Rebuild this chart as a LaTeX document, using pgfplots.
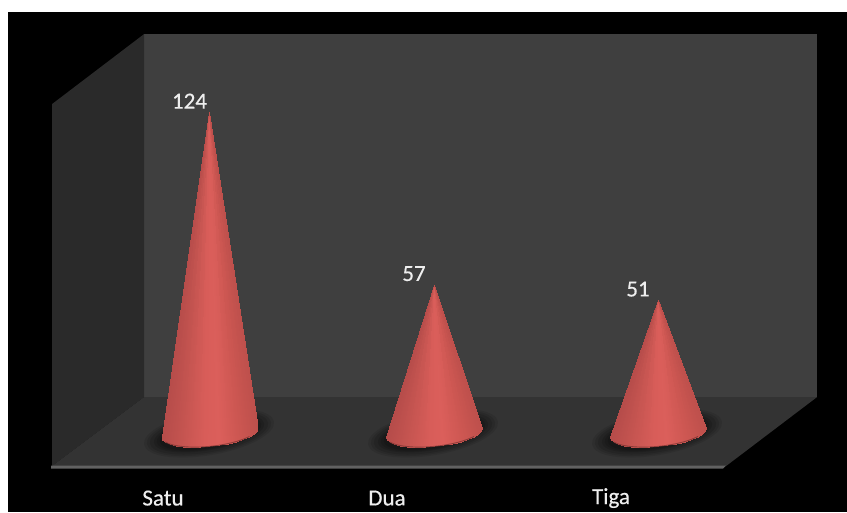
\documentclass[border=0pt]{standalone}
\usepackage{pgfplots}
\usepackage{pgfplotstable}
\usepackage{fontspec}
\usepgfplotslibrary{patchplots}
\pgfplotsset{compat=1.18}
\setmainfont{Carlito}

\definecolor{backwall}{RGB}{63,63,63}
\definecolor{sidewall}{RGB}{42,42,42}
\definecolor{floorc}{RGB}{51,51,51}
\definecolor{lipc}{RGB}{98,98,98}
\definecolor{labelc}{RGB}{238,238,238}
\definecolor{rimc}{RGB}{120,50,48}

% unit cone: a fan of triangles from the apex (a=1) to the front rim of the base
\pgfplotstableread{
a dx dy m
1 0 0 -47.55
0 -48 4.5 -48
0 -47.1 7.1 -47.1
1 0 0 -45.7
0 -47.1 7.1 -47.1
0 -44.3 9.45 -44.3
1 0 0 -42.1
0 -44.3 9.45 -44.3
0 -39.9 11.41 -39.9
1 0 0 -36.9
0 -39.9 11.41 -39.9
0 -33.9 12.94 -33.9
1 0 0 -30.3
0 -33.9 12.94 -33.9
0 -26.7 13.97 -26.7
1 0 0 -22.55
0 -26.7 13.97 -26.7
0 -18.4 14.47 -18.4
1 0 0 -13.9
0 -18.4 14.47 -18.4
0 -9.4 14.42 -9.4
1 0 0 -4.7
0 -9.4 14.42 -9.4
0 0 13.8 0
1 0 0 4.7
0 0 13.8 0
0 9.4 12.66 9.4
1 0 0 13.9
0 9.4 12.66 9.4
0 18.4 11.03 18.4
1 0 0 22.55
0 18.4 11.03 18.4
0 26.7 8.97 26.7
1 0 0 30.3
0 26.7 8.97 26.7
0 33.9 6.58 33.9
1 0 0 36.9
0 33.9 6.58 33.9
0 39.9 3.93 39.9
1 0 0 42.1
0 39.9 3.93 39.9
0 44.3 1.13 44.3
1 0 0 45.7
0 44.3 1.13 44.3
0 47.1 -1.72 47.1
1 0 0 47.55
0 47.1 -1.72 47.1
0 48 -4.5 48
}\conefan

% front rim of the base, stroked as a thin dark edge
\pgfplotstableread{
dx dy
-44.3 9.45
-39.9 11.41
-33.9 12.94
-26.7 13.97
-18.4 14.47
-9.4 14.42
0 13.8
9.4 12.66
18.4 11.03
26.7 8.97
33.9 6.58
39.9 3.93
}\conerim

% one flat panel of the box, corners given in picture units with y pointing down
\newcommand{\panel}[2]{%
  \addplot[fill=#1,draw=none,forget plot]
    table[row sep=\\,x=px,y expr={(431.3-\thisrow{py})/2.575}] {px py\\ #2} -- cycle;}

% one cone: centre x on the floor and its value
\newcommand{\cone}[2]{%
  \addplot[patch,patch type=triangle,shader=interp,forget plot]
    table[x expr={\thisrow{dx}+#1},
          y expr={\thisrow{a}*#2-(\thisrow{dy}+1.2*(1-\thisrow{a}))/2.575},
          point meta=\thisrow{m}] {\conefan};
  \addplot[rimc,line width=0.9pt,smooth,forget plot,opacity=0.75]
    table[x expr={\thisrow{dx}+#1},y expr={-(\thisrow{dy}+1.2)/2.575}] {\conerim};}

% soft shadow on the floor, built from stacked translucent ellipses
\newcommand{\coneshadow}[1]{%
  \fill[black,opacity=0.09] (axis cs:#1,-0.66) ellipse [x radius=66pt,y radius=22pt,rotate=10];
  \fill[black,opacity=0.10] (axis cs:#1,-0.66) ellipse [x radius=63pt,y radius=20.5pt,rotate=10];
  \fill[black,opacity=0.12] (axis cs:#1,-0.66) ellipse [x radius=60pt,y radius=19pt,rotate=10];
  \fill[black,opacity=0.12] (axis cs:#1,-0.66) ellipse [x radius=56pt,y radius=17pt,rotate=10];
  \fill[black,opacity=0.12] (axis cs:#1,-0.66) ellipse [x radius=53pt,y radius=16pt,rotate=10];
  \fill[black,opacity=0.12] (axis cs:#1,-0.66) ellipse [x radius=50pt,y radius=15pt,rotate=10];}

\begin{document}
\begin{tikzpicture}
\begin{axis}[
  width=847pt,height=512pt,scale only axis,
  xmin=0,xmax=847,ymin=-31.34,ymax=167.5,
  axis on top,
  axis line style={draw=none},
  axis background/.style={fill=white},
  major tick length=0pt,
  ytick=\empty,
  xtick={163,387,611},
  xticklabels={Satu,Dua,Tiga},
  x tick label style={anchor=center,yshift=14pt,
    font=\fontsize{23}{25}\selectfont\addfontfeature{FakeBold=0.4},text=labelc},
  colormap={conered}{
    rgb255(0cm)=(182,76,74);
    rgb255(2cm)=(196,84,80);
    rgb255(4.5cm)=(216,93,89);
    rgb255(6cm)=(219,95,91);
    rgb255(8cm)=(205,87,82);
    rgb255(10cm)=(190,80,76)},
  point meta min=-48,point meta max=48,
  /pgf/number format/assume math mode=true,
  clip=true,
]
\panel{black}{8 12\\ 847 12\\ 847 512\\ 8 512\\}
\panel{backwall}{144 34\\ 817 34\\ 817 397\\ 144 397\\}
\panel{sidewall}{52 104\\ 144 34\\ 144 397\\ 52 466\\}
\panel{floorc}{52 466\\ 144 397\\ 817 397\\ 726 466\\}
\panel{lipc}{51 465.5\\ 726 465.5\\ 723 468.5\\ 51 468.5\\}

\coneshadow{209}
\coneshadow{433}
\coneshadow{657}

\cone{209.5}{124}
\cone{434}{57}
\cone{658}{51}

\addplot[only marks,mark=none,forget plot,
  nodes near coords={\pgfmathprintnumber{\pgfplotspointmeta}},
  point meta=y,
  nodes near coords align={anchor=center},
  every node near coord/.append style={xshift=-20pt,yshift=11pt,inner sep=0pt,
    font=\fontsize{23}{25}\selectfont\addfontfeature{FakeBold=0.4},text=labelc}]
  coordinates {(209.5,124) (434,57) (658,51)};
\end{axis}
\end{tikzpicture}
\end{document}
